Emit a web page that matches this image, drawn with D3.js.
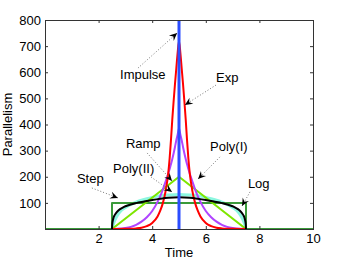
<!DOCTYPE html>
<html>
<head>
<meta charset="utf-8">
<script src="https://cdn.jsdelivr.net/npm/d3@7/dist/d3.min.js"></script>
<style>
  body { margin: 0; background: #fff; }
  svg { display: block; font-family: 'Liberation Sans', Arial, sans-serif; }
</style>
</head>
<body>
<script>
'use strict';

// values
const xTicks = [2, 4, 6, 8, 10];
const yTicks = [100, 200, 300, 400, 500, 600, 700, 800];

const stepT = [0, 2.5, 2.5, 7.5, 7.5, 10];
const stepV = [0, 0, 100, 100, 0, 0];

const rampT = [2.5, 5, 7.5];
const rampV = [0, 200, 0];

const impulseT = [5, 5];
const impulseV = [0, 800];

const peakT = [2.5, 2.7, 3.0, 3.2, 3.4, 3.6, 3.8, 4.0, 4.2, 4.3, 4.4, 4.5, 4.6, 4.65, 4.7, 4.75, 4.8, 4.85, 4.9, 4.95,
  5.0,
  5.05, 5.1, 5.15, 5.2, 5.25, 5.3, 5.35, 5.4, 5.5, 5.6, 5.7, 5.8, 6.0, 6.2, 6.4, 6.6, 6.8, 7.0, 7.3, 7.5];
const expV = [0, 0.1, 0.5, 1.1, 2.4, 5, 11, 23, 48, 70, 100, 145, 215, 270, 340, 420, 490, 555, 615, 675,
  720,
  675, 615, 555, 490, 420, 340, 270, 215, 145, 100, 70, 48, 23, 11, 5, 2.4, 1.1, 0.5, 0.1, 0];
const polyIV = [0, 0.6, 3.5, 8, 16, 28, 45, 69, 104, 126, 152, 182, 212, 230, 248, 268, 290, 314, 340, 362,
  385,
  362, 340, 314, 290, 268, 248, 230, 212, 182, 152, 126, 104, 69, 45, 28, 16, 8, 3.5, 0.6, 0];

const polyIIT = [2.5, 2.55, 2.6, 2.7, 2.8, 3.0, 3.2, 3.4, 3.6, 3.8, 4.0, 4.3, 4.6, 5.0,
  5.4, 5.7, 6.0, 6.2, 6.4, 6.6, 6.8, 7.0, 7.2, 7.3, 7.4, 7.45, 7.5];
const polyIIV = [0, 18, 32, 52, 66, 82, 94, 103, 110, 116, 121, 127, 130, 132,
  130, 127, 121, 116, 110, 103, 94, 82, 66, 52, 32, 18, 0];

const logT = [2.5, 2.51, 2.53, 2.56, 2.6, 2.65, 2.7, 2.8, 2.9, 3.0, 3.2, 3.4, 3.7, 4.0, 4.3, 4.6, 5.0,
  5.4, 5.7, 6.0, 6.3, 6.6, 6.8, 7.0, 7.1, 7.2, 7.3, 7.35, 7.4, 7.44, 7.47, 7.49, 7.5];
const logV = [0, 18, 32, 44, 53, 61, 67, 76, 82, 87, 94, 99, 105, 111, 116, 120, 122,
  120, 116, 111, 105, 99, 94, 87, 82, 76, 67, 61, 53, 44, 32, 18, 0];

// annotation texts, placed in data units
const labelNames = ['Impulse', 'Exp', 'Ramp', 'Poly(II)', 'Step', 'Poly(I)', 'Log'];
const labelX = [2.8, 6.38, 3.02, 2.54, 1.19, 6.16, 7.57];
const labelY = [574, 563, 310, 214, 176, 299, 157];
const arrowFromX = [3.47, 6.38, 3.81, 3.96, 1.75, 6.53, 7.65];
const arrowFromY = [616, 551, 291, 199, 157, 276, 142];
const arrowToX = [4.93, 5.22, 4.74, 4.74, 2.72, 5.71, 7.35];
const arrowToY = [750, 475, 184, 142, 119, 191, 88];

const width = 346;
const height = 261;
const margin = {left: 45, right: 33, top: 20, bottom: 32};

const xScale = d3.scaleLinear().domain([0, 10]).range([margin.left, width - margin.right]);
const yScale = d3.scaleLinear().domain([0, 800]).range([height - margin.bottom, margin.top]);

const svg = d3.select('body').append('svg')
  .attr('width', width)
  .attr('height', height);

svg.append('rect').attr('width', width).attr('height', height).attr('fill', '#fff');

const series = [
  {t: polyIIT, v: polyIIV, color: '#8cf7e0', w: 3, curve: d3.curveMonotoneX},
  {t: stepT, v: stepV, color: '#3a9a3a', w: 2, curve: d3.curveLinear},
  {t: rampT, v: rampV, color: '#7ee600', w: 2, curve: d3.curveLinear},
  {t: peakT, v: polyIV, color: '#b044ff', w: 2, curve: d3.curveMonotoneX},
  {t: peakT, v: expV, color: '#ff0000', w: 2, curve: d3.curveMonotoneX},
  {t: logT, v: logV, color: '#000000', w: 2, curve: d3.curveMonotoneX},
  {t: impulseT, v: impulseV, color: '#2b4dff', w: 3, curve: d3.curveLinear}
];

svg.append('clipPath').attr('id', 'plot-clip')
  .append('rect')
  .attr('x', margin.left)
  .attr('y', margin.top)
  .attr('width', xScale(10) - margin.left)
  .attr('height', yScale(0) - margin.top);

const lines = svg.append('g').attr('clip-path', 'url(#plot-clip)');

series.forEach(s => {
  const pts = s.t.map((t, i) => [t, s.v[i]]);
  const line = d3.line()
    .x(d => xScale(d[0]))
    .y(d => yScale(d[1]))
    .curve(s.curve);
  lines.append('path')
    .datum(pts)
    .attr('d', line)
    .attr('fill', 'none')
    .attr('stroke', s.color)
    .attr('stroke-width', s.w)
    .attr('stroke-linejoin', 'round');
});

// axes: inside ticks on all four sides, MATLAB box
const axisColor = '#333';
const tick = 3;

const xAxis = svg.append('g')
  .attr('transform', 'translate(0,' + yScale(0) + ')')
  .call(d3.axisBottom(xScale).tickValues(xTicks).tickSizeInner(-tick).tickSizeOuter(0).tickPadding(5));
const xTop = svg.append('g')
  .attr('transform', 'translate(0,' + yScale(800) + ')')
  .call(d3.axisTop(xScale).tickValues(xTicks).tickSizeInner(-tick).tickSizeOuter(0).tickFormat(''));
const yAxis = svg.append('g')
  .attr('transform', 'translate(' + xScale(0) + ',0)')
  .call(d3.axisLeft(yScale).tickValues(yTicks).tickSizeInner(-tick).tickSizeOuter(0).tickPadding(4));
const yRight = svg.append('g')
  .attr('transform', 'translate(' + xScale(10) + ',0)')
  .call(d3.axisRight(yScale).tickValues(yTicks).tickSizeInner(-tick).tickSizeOuter(0).tickFormat(''));

[xAxis, xTop, yAxis, yRight].forEach(a => {
  a.select('.domain').remove();
  a.selectAll('line').attr('stroke', axisColor);
  a.selectAll('text')
    .attr('fill', '#000')
    .style('font-size', '13px')
    .style('font-family', "'Liberation Sans', Arial, sans-serif");
});

svg.append('rect')
  .attr('x', xScale(0))
  .attr('y', yScale(800))
  .attr('width', xScale(10) - xScale(0))
  .attr('height', yScale(0) - yScale(800))
  .attr('fill', 'none')
  .attr('stroke', axisColor)
  .attr('stroke-width', 1)
  .attr('shape-rendering', 'crispEdges');

svg.append('text')
  .attr('x', (xScale(0) + xScale(10)) / 2)
  .attr('y', 257)
  .attr('text-anchor', 'middle')
  .style('font-size', '13px')
  .text('Time');

svg.append('text')
  .attr('transform', 'translate(12,' + (yScale(0) + yScale(800)) / 2 + ') rotate(-90)')
  .attr('text-anchor', 'middle')
  .style('font-size', '13px')
  .text('Parallelism');

// annotations with dotted arrows
svg.append('defs').append('marker')
  .attr('id', 'head')
  .attr('markerUnits', 'userSpaceOnUse')
  .attr('markerWidth', 10)
  .attr('markerHeight', 10)
  .attr('viewBox', '-8 -4 9 8')
  .attr('refX', 0)
  .attr('refY', 0)
  .attr('orient', 'auto')
  .append('path')
  .attr('d', 'M0,0 L-7,-3.2 L-4.5,0 L-7,3.2 Z')
  .attr('fill', '#000');

const notes = svg.append('g');

labelNames.forEach((name, i) => {
  notes.append('line')
    .attr('x1', xScale(arrowFromX[i]))
    .attr('y1', yScale(arrowFromY[i]))
    .attr('x2', xScale(arrowToX[i]))
    .attr('y2', yScale(arrowToY[i]))
    .attr('stroke', '#777')
    .attr('stroke-width', 1)
    .attr('stroke-dasharray', '1,2')
    .attr('marker-end', 'url(#head)');
  notes.append('text')
    .attr('x', xScale(labelX[i]))
    .attr('y', yScale(labelY[i]))
    .style('font-size', '13px')
    .attr('fill', '#000')
    .text(name);
});
</script>
</body>
</html>
